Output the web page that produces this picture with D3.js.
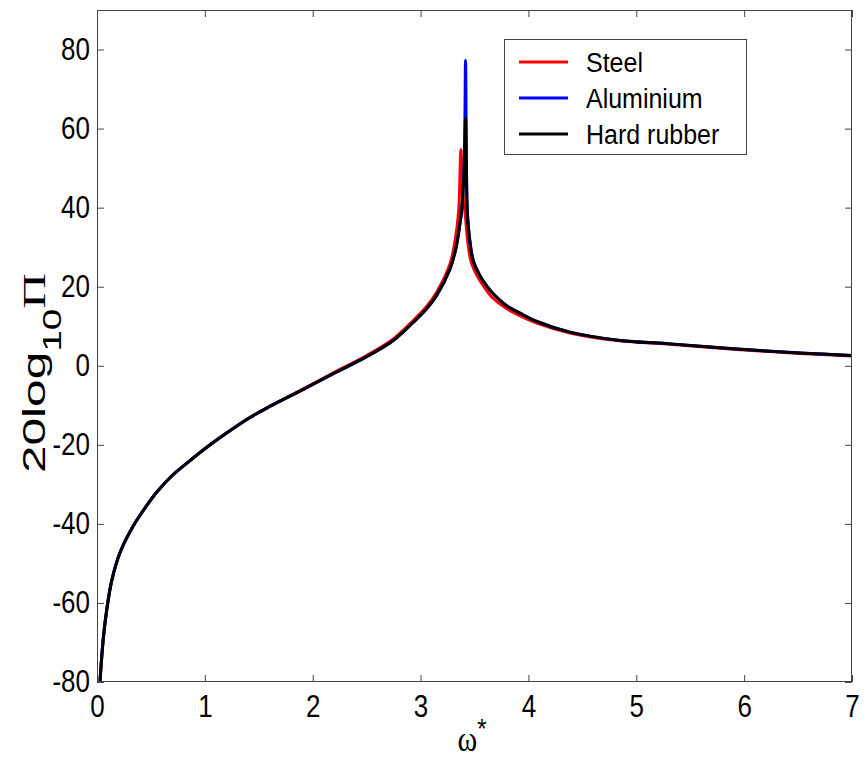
<!DOCTYPE html>
<html><head><meta charset="utf-8">
<script src="https://cdn.jsdelivr.net/npm/d3@7"></script>
<style>body{margin:0;background:#fff}svg{display:block}</style>
</head><body>
<svg id="c" width="866" height="758"></svg>
<script>
// ---- data ----
const xTicks = [0,1,2,3,4,5,6,7];
const yTicks = [-80,-60,-40,-20,0,20,40,60,80];
const seriesNames = ["Steel","Aluminium","Hard rubber"];
const seriesColors = ["#ff0000","#0000ff","#000000"];

const steelOmega = [0.028,0.059,0.09,0.136,0.213,0.337,0.45,0.553,0.7,0.862,1.0,1.171,1.418,1.573,1.882,2.191,2.5,2.747,2.933,3.05,3.149,3.273,3.33,3.355,3.374,3.39,3.415,3.437,3.47,3.53,3.6,3.66,3.79,3.95,4.077,4.385,4.849,5.282,5.9,6.518,7.0];
const steelVal   = [-79.7,-68.8,-61.8,-54.4,-47.3,-40.5,-35.8,-32.0,-27.7,-24.0,-21.0,-17.6,-13.1,-10.7,-6.3,-1.8,2.6,6.8,11.5,14.8,18.6,25.8,33.5,40,54.7,44,38,31.5,26.2,22.5,19.5,17.4,14.6,12.3,10.8,8.3,6.3,5.5,4.2,3.1,2.5];

const aluOmega = [0.028,0.059,0.09,0.136,0.213,0.337,0.45,0.553,0.7,0.862,1.0,1.171,1.418,1.573,1.882,2.191,2.5,2.747,2.933,3.05,3.149,3.273,3.33,3.36,3.381,3.405,3.417,3.425,3.433,3.455,3.489,3.551,3.613,3.674,3.798,3.95,4.077,4.385,4.849,5.282,5.9,6.518,7.0];
const aluVal   = [-79.7,-68.8,-61.8,-54.4,-47.3,-40.5,-35.8,-32.0,-27.7,-24.0,-21.0,-17.6,-13.1,-10.7,-6.4,-2.0,2.3,6.4,11.0,14.2,17.8,24.5,30,35,39.3,52,77.2,52,39.3,32,26.5,22.8,20.2,18.2,15.2,12.9,11.2,8.5,6.4,5.6,4.3,3.2,2.6];

const rubberOmega = [0.028,0.059,0.09,0.136,0.213,0.337,0.45,0.553,0.7,0.862,1.0,1.171,1.418,1.573,1.882,2.191,2.5,2.747,2.933,3.05,3.149,3.273,3.33,3.36,3.381,3.405,3.417,3.425,3.433,3.455,3.489,3.551,3.613,3.674,3.798,3.95,4.077,4.385,4.849,5.282,5.9,6.518,7.0];
const rubberVal   = [-79.7,-68.8,-61.8,-54.4,-47.3,-40.5,-35.8,-32.0,-27.7,-24.0,-21.0,-17.6,-13.1,-10.7,-6.4,-2.0,2.3,6.4,11.0,14.2,17.8,24.5,30,35,39.3,50,62.6,50,39.3,32,26.5,22.8,20.2,18.2,15.2,12.9,11.2,8.5,6.4,5.6,4.3,3.2,2.6];

// ---- chart ----
const svg = d3.select("#c");
const L = 97, R = 852, T = 10, B = 682;
const x = d3.scaleLinear().domain([0,7]).range([L,R]);
const y = d3.scaleLinear().domain([-80,90]).range([B,T]);
const axisColor = "#444";
const SY = 1.18; // vertical stretch of text in reference

svg.append("defs").append("clipPath").attr("id","clip")
  .append("rect").attr("x",L).attr("y",T).attr("width",R-L).attr("height",B-T);

const series = [
  {omega: steelOmega, val: steelVal},
  {omega: aluOmega, val: aluVal},
  {omega: rubberOmega, val: rubberVal}
];
const line = d3.line().x(d=>x(d[0])).y(d=>y(d[1])).curve(d3.curveCatmullRom.alpha(0.5));
const plot = svg.append("g").attr("clip-path","url(#clip)");
series.forEach((s,i)=>{
  const pts = s.omega.map((o,j)=>[o,s.val[j]]);
  plot.append("path").datum(pts).attr("d",line)
    .attr("fill","none").attr("stroke",seriesColors[i])
    .attr("stroke-width",3).attr("stroke-linejoin","round").attr("stroke-linecap","butt");
});

function styleAxis(g){
  g.select(".domain").remove();
  g.selectAll("line").attr("stroke",axisColor).attr("stroke-width",1);
}
const fmt = d => String(d);
// bottom
const gb = svg.append("g").attr("transform",`translate(0,${B})`)
  .call(d3.axisBottom(x).tickValues(xTicks).tickSize(-7).tickSizeOuter(0).tickPadding(13).tickFormat(fmt));
styleAxis(gb);
gb.selectAll("text").attr("font-family","Liberation Sans, Arial, sans-serif").attr("font-size",26)
  .attr("fill","#000").attr("y",13/SY).attr("transform",`scale(1,${SY})`);
// top
const gt = svg.append("g").attr("transform",`translate(0,${T})`)
  .call(d3.axisTop(x).tickValues(xTicks).tickSize(-7).tickSizeOuter(0).tickFormat(""));
styleAxis(gt);
// left
const gl = svg.append("g").attr("transform",`translate(${L},0)`)
  .call(d3.axisLeft(y).tickValues(yTicks).tickSize(-7).tickSizeOuter(0).tickPadding(7).tickFormat(fmt));
styleAxis(gl);
gl.selectAll("text").attr("font-family","Liberation Sans, Arial, sans-serif").attr("font-size",26)
  .attr("fill","#000").attr("transform",`scale(1,${SY})`);
// right
const gr = svg.append("g").attr("transform",`translate(${R},0)`)
  .call(d3.axisRight(y).tickValues(yTicks).tickSize(-7).tickSizeOuter(0).tickFormat(""));
styleAxis(gr);

// box
svg.append("rect").attr("x",L+0.5).attr("y",T+0.5).attr("width",R-L-1).attr("height",B-T-1)
  .attr("fill","none").attr("stroke",axisColor).attr("stroke-width",1);

// legend
const lg = svg.append("g");
lg.append("rect").attr("x",504.5).attr("y",39.5).attr("width",242).attr("height",115)
  .attr("fill","#fff").attr("stroke",axisColor).attr("stroke-width",1);
seriesNames.forEach((n,i)=>{
  const cy = 62 + i*36;
  lg.append("line").attr("x1",519).attr("x2",568).attr("y1",cy).attr("y2",cy)
    .attr("stroke",seriesColors[i]).attr("stroke-width",3);
  lg.append("text").attr("x",586).attr("y",(cy+10)/1.12).attr("transform","scale(1,1.12)")
    .attr("font-family","Liberation Sans, Arial, sans-serif").attr("font-size",25).attr("fill","#000").text(n);
});

// x label
const xl = svg.append("text").attr("text-anchor","middle")
  .attr("transform",`translate(472,751) scale(1,${SY})`);
xl.append("tspan").attr("font-family","Liberation Serif, Times New Roman, serif").attr("font-size",30).text("ω");
xl.append("tspan").attr("font-family","Liberation Sans, Arial, sans-serif").attr("font-size",24).attr("dy",-11).text("*");

// y label
const yl = svg.append("text").attr("text-anchor","middle")
  .attr("transform",`translate(45,373) rotate(-90) scale(1.55,1)`);
yl.append("tspan").attr("font-family","Liberation Sans, Arial, sans-serif").attr("font-size",32).text("20log");
yl.append("tspan").attr("font-family","Liberation Sans, Arial, sans-serif").attr("font-size",25).attr("dy",16).text("10");
yl.append("tspan").attr("font-family","Liberation Serif, Times New Roman, serif").attr("font-size",32).attr("dy",-16).text("Π");
</script>
</body></html>
